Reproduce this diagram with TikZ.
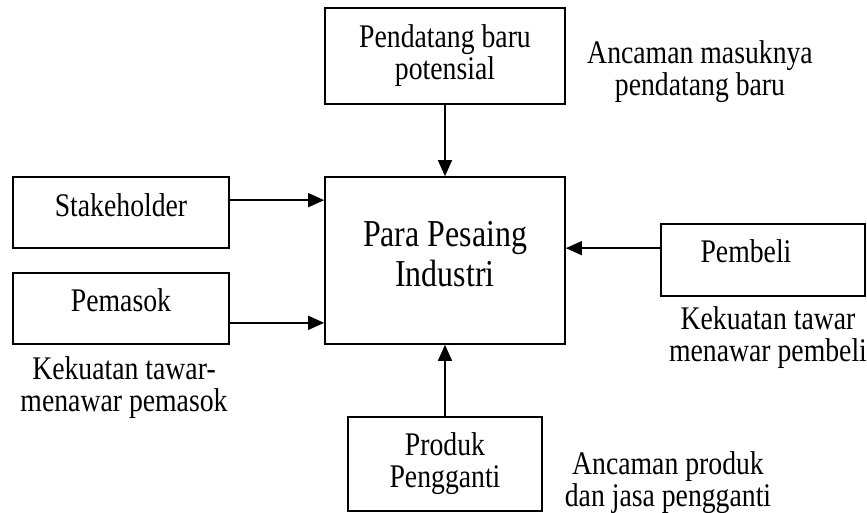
\documentclass[tikz,border=0pt]{standalone}
\usepackage{fontspec}
\setmainfont{Liberation Serif}[FakeStretch=0.84]
\usetikzlibrary{arrows.meta}
\tikzset{
  box/.style={draw, line width=1.7pt, inner sep=0pt},
  txt/.style={font=\fontsize{33}{32}\selectfont, align=center, inner sep=0pt},
  bigtxt/.style={font=\fontsize{38}{40}\selectfont, align=center, inner sep=0pt},
  arr/.style={line width=1.5pt, -{Triangle[length=16pt,width=14pt]}}
}
\begin{document}
\begin{tikzpicture}[x=1pt,y=-1pt]
\useasboundingbox (0,0) rectangle (867,513);
% boxes
\node[box, txt, minimum width=240pt, minimum height=96pt] (top) at (445,56) {Pendatang baru\\potensial};
\node[box, minimum width=240pt, minimum height=167pt] (cen) at (445,260.5) {};
\node[bigtxt] (cenT) at (445,254) {Para Pesaing\\Industri};
\node[box, minimum width=216pt, minimum height=71pt] (stake) at (121,212.5) {};
\node[txt] (stakeT) at (121,205) {Stakeholder};
\node[box, minimum width=216pt, minimum height=71pt] (pem) at (121,308.5) {};
\node[txt] (pemT) at (121,300) {Pemasok};
\node[box, minimum width=204pt, minimum height=72pt] (pemb) at (763,260) {};
\node[txt] (pembT) at (746,251) {Pembeli};
\node[box, txt, minimum width=194pt, minimum height=94pt] (prod) at (445,464) {Produk\\Pengganti};
% annotations
\node[txt] (ann1) at (700,72) {Ancaman masuknya\\pendatang baru};
\node[txt] (ann2) at (768,338) {Kekuatan tawar\\menawar pembeli};
\node[txt] (ann3) at (124,388) {Kekuatan tawar-\\menawar pemasok};
\node[txt] (ann4) at (668,483) {Ancaman produk\\dan jasa pengganti};
% connectors
\coordinate (a1) at ([yshift=-24pt]stake.north east);
\coordinate (a2) at ([yshift=22pt]pem.south east);
\coordinate (a3) at ([yshift=-25pt]pemb.north west);
\draw[arr] (top.south) -- (cen.north);
\draw[arr] (a1) -- (a1 -| cen.west);
\draw[arr] (a2) -- (a2 -| cen.west);
\draw[arr] (a3) -- (a3 -| cen.east);
\draw[arr] (prod.north) -- (cen.south);
\end{tikzpicture}
\end{document}
